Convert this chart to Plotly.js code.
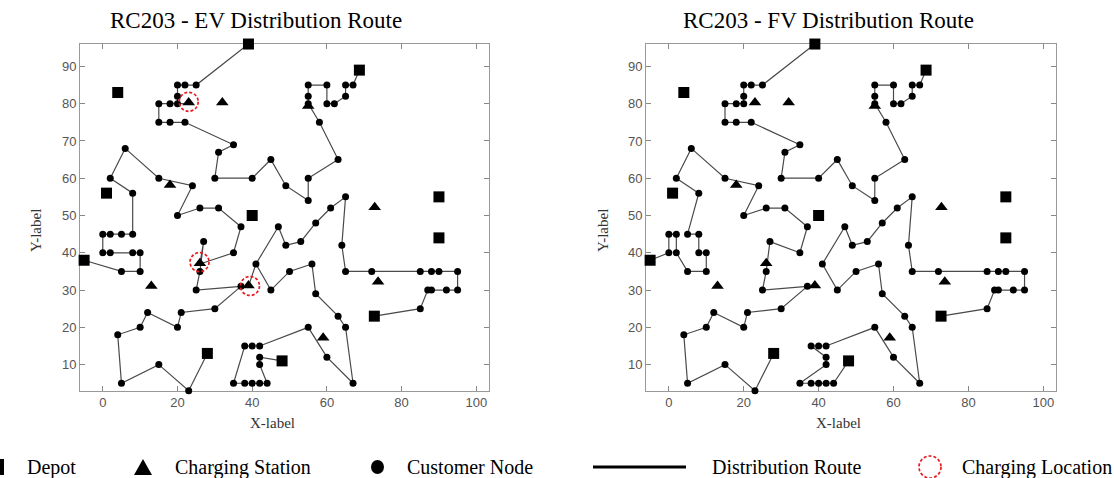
<!DOCTYPE html>
<html><head><meta charset="utf-8">
<script src="https://cdn.plot.ly/plotly-3.0.1.min.js"></script>
<style>html,body{margin:0;padding:0;background:#fff}#chart{width:1114px;height:478px}</style>
</head><body><div id="chart"></div>
<script>
// ---- data ----
const customerX = [25,22,22,20,20,18,15,15,10,10, 8,8,5,5,2,0,0,44,42,42, 40,40,38,38,35,95,95,92,90,88, 88,87,85,85,67,65,65,62,60,60,
  58,55,55,55,20,18,2,42,42,72, 55,25,20,55,30,50,30,15,10,15, 45,65,65,45,35,41,64,40,31,35, 65,63,2,20,5,60,23,8,6,47,
  49,27,37,57,63,21,12,24,67,37, 49,53,61,57,56,55,4,26,26,31];
const customerY = [85,75,85,80,85,75,75,80,35,40, 40,45,35,45,40,40,45,5,10,15, 5,15,5,15,5,30,35,30,35,30, 35,30,25,35,85,85,82,80,80,85,
  75,80,85,82,82,80,45,5,12,35, 20,30,50,60,60,35,25,10,20,60, 65,35,20,30,40,37,42,60,52,69, 55,65,60,20,5,12,3,56,68,47,
  58,43,31,29,23,24,24,58,5,47, 42,43,52,48,37,54,18,52,35,67];
const depotX = [39,4,68.7,1,40,90,90,-5,72.7,28,48];
const depotY = [96,83,89,56,50,55,44,38,23,13,11];
const stationX = [23,32,18,13,26,39,55,72.8,73.7,59];
const stationY = [80.3,80.3,58.2,31.1,37.2,31.2,79.4,52.2,32.2,17.2];
const chargeX = [23,25.9,39.4];
const chargeY = [80.5,37.5,31.1];
const titles = ['RC203 - EV Distribution Route','RC203 - FV Distribution Route'];
const xTicks = [0,20,40,60,80,100];
const yTicks = [10,20,30,40,50,60,70,80,90];
const legendLabels = ['Depot','Charging Station','Customer Node','Distribution Route','Charging Location'];

const evRoutes = [
  [[39,96],[25,85],[22,85],[20,85],[20,82],[20,80],[23,80],[18,80],[15,80],[15,75],[18,75],[22,75],[35,69],[31,67],[30,60],[40,60],[45,65],[49,58],[55,54],[55,60],[63,65],[58,75],[55,80],[55,82],[55,85],[60,85],[60,80],[62,80],[65,82],[65,85],[67,85],[68.7,89]],
  [[-5,38],[5,35],[10,35],[10,40],[8,40],[2,40],[0,40],[0,45],[2,45],[5,45],[8,45],[8,56],[2,60],[6,68],[15,60],[24,58],[20,50],[26,52],[31,52],[37,47],[35,40],[26,37],[27,43],[26,35],[25,30],[37,31],[30,25],[21,24],[20,20],[12,24],[10,20],[4,18],[5,5],[15,10],[23,3],[28,13]],
  [[72.7,23],[85,25],[87,30],[88,30],[92,30],[95,30],[95,35],[90,35],[88,35],[85,35],[72,35],[65,35],[64,42],[65,55],[61,52],[57,48],[53,43],[49,42],[47,47],[41,37],[39,31],[41,37],[45,30],[50,35],[56,37],[57,29],[63,23],[65,20],[67,5],[60,12],[55,20],[42,15],[40,15],[38,15],[35,5],[38,5],[40,5],[42,5],[44,5],[42,10],[42,12],[48,11]]
];
const fvRoutes = [
  [[39,96],[25,85],[22,85],[20,85],[20,82],[20,80],[18,80],[15,80],[15,75],[18,75],[22,75],[35,69],[31,67],[30,60],[40,60],[45,65],[49,58],[55,54],[55,60],[63,65],[58,75],[55,80],[55,82],[55,85],[60,85],[60,80],[62,80],[65,82],[65,85],[67,85],[68.7,89]],
  [[-5,38],[0,40],[0,45],[2,45],[2,40],[5,35],[10,35],[10,40],[8,40],[8,45],[5,45],[8,56],[2,60],[6,68],[15,60],[24,58],[20,50],[26,52],[31,52],[37,47],[35,40],[27,43],[26,35],[25,30],[37,31],[30,25],[21,24],[20,20],[12,24],[10,20],[4,18],[5,5],[15,10],[23,3],[28,13]],
  [[72.7,23],[85,25],[87,30],[88,30],[92,30],[95,30],[95,35],[90,35],[88,35],[85,35],[72,35],[65,35],[64,42],[65,55],[61,52],[57,48],[53,43],[49,42],[47,47],[41,37],[45,30],[50,35],[56,37],[57,29],[63,23],[65,20],[67,5],[60,12],[55,20],[42,15],[40,15],[38,15],[42,12],[42,10],[35,5],[38,5],[40,5],[42,5],[44,5],[48,11]]
];

// ---- build ----
const W = 1114, H = 478;
const px = v => v / W, py = v => 1 - v / H;
function routeXY(routes){
  const xs = [], ys = [];
  routes.forEach(r => { r.forEach(p => { xs.push(p[0]); ys.push(p[1]); }); xs.push(null); ys.push(null); });
  return {xs, ys};
}
const traces = [];
[evRoutes, fvRoutes].forEach((routes, i) => {
  const ax = i === 0 ? '' : '2';
  const r = routeXY(routes);
  traces.push({x: r.xs, y: r.ys, xaxis: 'x'+ax, yaxis: 'y'+ax, mode: 'lines', type: 'scatter',
    line: {color: '#4a4a4a', width: 1.2}, showlegend: false, hoverinfo: 'skip'});
  traces.push({x: customerX, y: customerY, xaxis: 'x'+ax, yaxis: 'y'+ax, mode: 'markers', type: 'scatter', cliponaxis: false,
    marker: {symbol: 'circle', size: 7, color: '#000'}, showlegend: false});
  traces.push({x: stationX, y: stationY, xaxis: 'x'+ax, yaxis: 'y'+ax, mode: 'markers', type: 'scatter', cliponaxis: false,
    marker: {symbol: 'triangle-up', size: 11, color: '#000'}, showlegend: false});
  traces.push({x: depotX, y: depotY, xaxis: 'x'+ax, yaxis: 'y'+ax, mode: 'markers', type: 'scatter', cliponaxis: false,
    marker: {symbol: 'square', size: 11, color: '#000'}, showlegend: false});
});

const tickFont = {family: 'Liberation Sans, Arial, sans-serif', size: 13, color: '#555'};
function xax(dom){ return {domain: dom, range: [-6.1, 103.4], tickvals: xTicks, ticks: 'inside', ticklen: 5, tickcolor: '#888',
  showline: true, linecolor: '#999', linewidth: 1, mirror: 'ticks', showgrid: false, zeroline: false, tickfont: tickFont,
  layer: 'below traces', fixedrange: true}; }
function yax(anchor){ return {domain: [0.1826, 0.9079], range: [3, 96], tickvals: yTicks, ticks: 'inside', ticklen: 5, tickcolor: '#888',
  showline: true, linecolor: '#999', linewidth: 1, mirror: 'ticks', showgrid: false, zeroline: false, tickfont: tickFont, anchor: anchor,
  layer: 'below traces', fixedrange: true}; }

const serif = 'Liberation Serif, Times New Roman, serif';
const annotations = [];
const titleX = [256, 828], xlabX = [272, 838], ylabX = [36, 603];
for (let i = 0; i < 2; i++) {
  annotations.push({text: titles[i], xref: 'paper', yref: 'paper', x: px(titleX[i]), y: py(21), xanchor: 'center', yanchor: 'middle',
    showarrow: false, font: {family: serif, size: 23, color: '#000'}});
  annotations.push({text: 'X-label', xref: 'paper', yref: 'paper', x: px(xlabX[i]), y: py(423), xanchor: 'center', yanchor: 'middle',
    showarrow: false, font: {family: serif, size: 15, color: '#333'}});
  annotations.push({text: 'Y-label', xref: 'paper', yref: 'paper', x: px(ylabX[i]), y: py(231), xanchor: 'center', yanchor: 'middle',
    textangle: -90, showarrow: false, font: {family: serif, size: 15, color: '#333'}});
}
const legTextX = [25, 173, 405, 710, 960];
legendLabels.forEach((t, i) => annotations.push({text: t, xref: 'paper', yref: 'paper', x: px(legTextX[i]), y: py(467),
  xanchor: 'left', yanchor: 'middle', showarrow: false, font: {family: serif, size: 20, color: '#000'}}));

const shapes = [];
// charging locations (EV plot)
chargeX.forEach((cx, i) => shapes.push({type: 'circle', xref: 'x', yref: 'y', xsizemode: 'pixel', ysizemode: 'pixel',
  xanchor: cx, yanchor: chargeY[i], x0: -9.5, x1: 9.5, y0: -9.5, y1: 9.5, line: {color: '#e8191f', width: 1.7, dash: '3px,2px'}}));
// legend glyphs
shapes.push({type: 'rect', xref: 'paper', yref: 'paper', x0: px(-6), x1: px(4), y0: py(475), y1: py(459), fillcolor: '#000', line: {width: 0}});
shapes.push({type: 'path', xref: 'paper', yref: 'paper', path: `M${px(134)},${py(475)} L${px(152)},${py(475)} L${px(143)},${py(459)} Z`, fillcolor: '#000', line: {width: 0}});
shapes.push({type: 'circle', xref: 'paper', yref: 'paper', x0: px(371), x1: px(384), y0: py(474), y1: py(460), fillcolor: '#000', line: {width: 0}});
shapes.push({type: 'line', xref: 'paper', yref: 'paper', x0: px(593), x1: px(686), y0: py(467), y1: py(467), line: {color: '#000', width: 3}});
shapes.push({type: 'circle', xref: 'paper', yref: 'paper', x0: px(919), x1: px(941), y0: py(478), y1: py(456), line: {color: '#e8191f', width: 1.7, dash: '3px,2px'}});

const layout = {
  width: W, height: H, margin: {l: 0, r: 0, t: 0, b: 0}, paper_bgcolor: '#fff', plot_bgcolor: '#fff', showlegend: false,
  xaxis: Object.assign(xax([80/W, 489/W]), {anchor: 'y'}), yaxis: yax('x'),
  xaxis2: Object.assign(xax([646/W, 1056/W]), {anchor: 'y2'}), yaxis2: yax('x2'),
  annotations, shapes
};
Plotly.newPlot('chart', traces, layout, {staticPlot: true, displayModeBar: false});
</script></body></html>
